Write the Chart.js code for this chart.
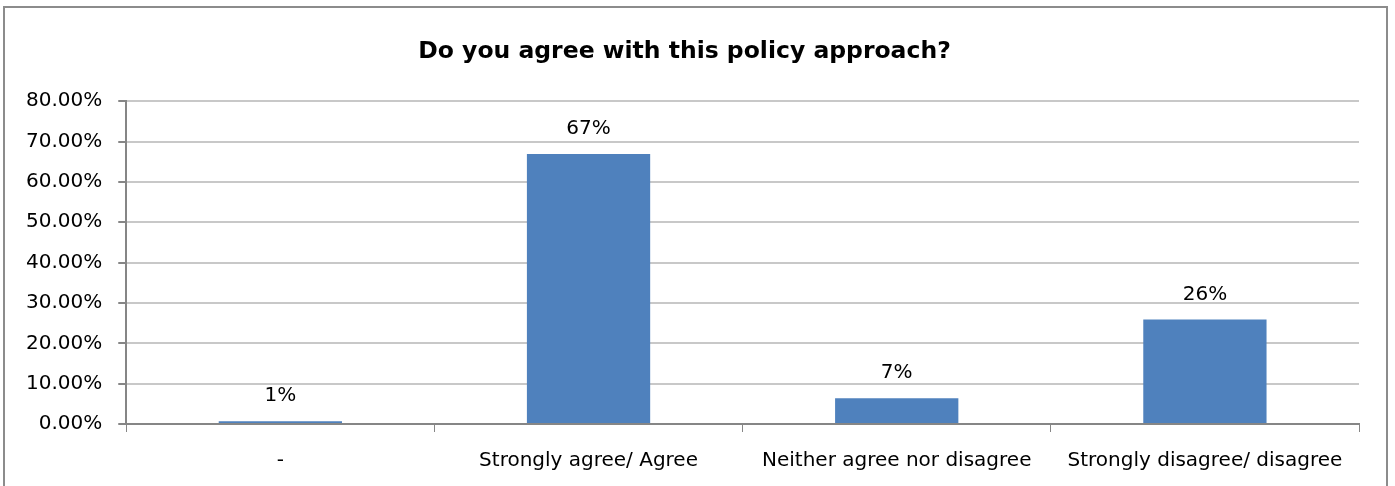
<!DOCTYPE html>
<html><head><meta charset="utf-8">
<script src="https://cdn.jsdelivr.net/npm/chart.js@4/dist/chart.umd.min.js"></script>
<style>
html,body{margin:0;padding:0;background:#fff;width:1395px;height:486px;overflow:hidden;}
#frame{position:absolute;left:3px;top:6px;width:1385px;height:490px;border:2px solid #8c8c8c;box-sizing:border-box;}
#wrap{position:absolute;left:0;top:0;width:1395px;height:486px;}
</style></head>
<body>
<div id="frame"></div>
<div id="wrap"><canvas id="c" width="1395" height="486"></canvas></div>
<script>
const categories = ['-', 'Strongly agree/ Agree', 'Neither agree nor disagree', 'Strongly disagree/ disagree'];
const values = [0.007, 0.669, 0.064, 0.259];
const valueLabels = ['1%', '67%', '7%', '26%'];
const chartTitle = 'Do you agree with this policy approach?';

const FONT = "'DejaVu Sans', sans-serif";

const dataLabelPlugin = {
  id: 'dataLabels',
  afterDatasetsDraw(chart) {
    const ctx = chart.ctx;
    const meta = chart.getDatasetMeta(0);
    ctx.save();
    ctx.font = '20px ' + FONT;
    ctx.fillStyle = '#000';
    ctx.textAlign = 'center';
    ctx.textBaseline = 'middle';
    meta.data.forEach((bar, i) => {
      ctx.fillText(valueLabels[i], bar.x, bar.y - 25);
    });
    ctx.restore();
  }
};

new Chart(document.getElementById('c'), {
  type: 'bar',
  data: {
    labels: categories,
    datasets: [{
      data: values,
      backgroundColor: '#4F81BD',
      borderWidth: 0,
      barPercentage: 0.4,
      categoryPercentage: 1.0
    }]
  },
  options: {
    responsive: false,
    animation: false,
    layout: { padding: { left: 10, right: 36, top: 0, bottom: 0 } },
    plugins: {
      legend: { display: false },
      tooltip: { enabled: false },
      title: {
        display: true,
        text: chartTitle,
        color: '#000',
        font: { family: FONT, size: 23.5, weight: 'bold' },
        padding: { top: 38, bottom: 35 }
      }
    },
    scales: {
      x: {
        afterFit(scale) { scale.height = 62; },
        grid: { display: true, offset: true, drawOnChartArea: false, drawTicks: true, tickLength: 8, color: '#868686' },
        border: { display: true, color: '#868686', width: 2 },
        ticks: { color: '#000', font: { family: FONT, size: 20 }, padding: 17, maxRotation: 0, autoSkip: false }
      },
      y: {
        min: 0, max: 0.8,
        grid: { color: '#c8c8c8', lineWidth: 2, drawTicks: true, tickLength: 8, tickColor: '#868686' },
        border: { display: true, color: '#868686', width: 2 },
        ticks: {
          stepSize: 0.1, color: '#000', font: { family: FONT, size: 20 }, padding: 16,
          callback: v => (v * 100).toFixed(2) + '%'
        }
      }
    }
  },
  plugins: [dataLabelPlugin]
});
</script>
</body></html>
